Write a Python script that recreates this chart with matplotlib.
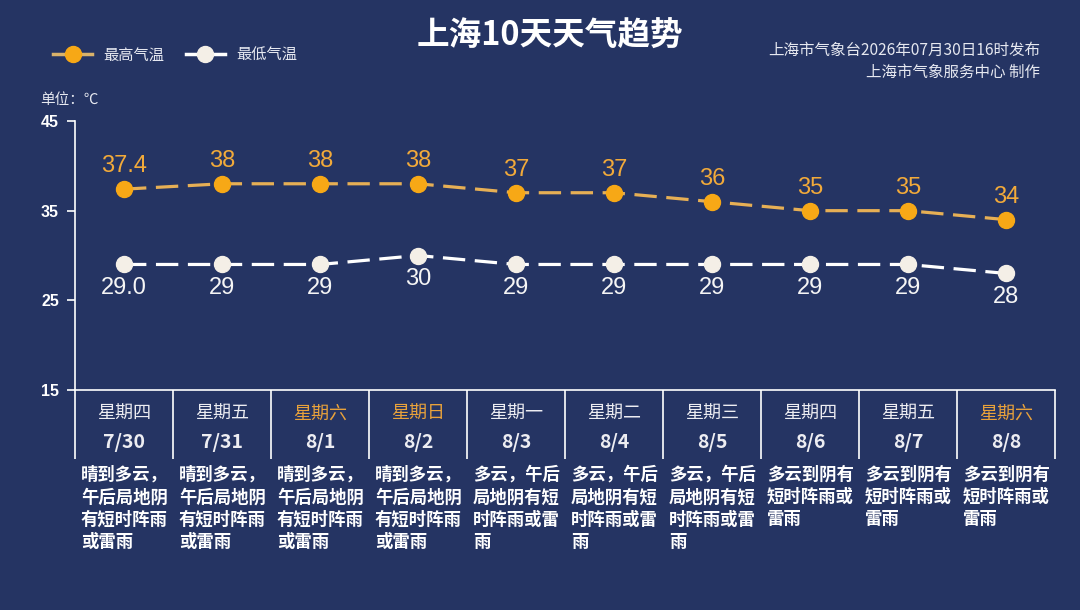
import numpy as np
import matplotlib
matplotlib.use("Agg")
import matplotlib.pyplot as plt
from matplotlib.lines import Line2D
from matplotlib.transforms import blended_transform_factory

# =========================
# DATA
# =========================
weekdays = ["星期四", "星期五", "星期六", "星期日", "星期一",
            "星期二", "星期三", "星期四", "星期五", "星期六"]
dates = ["7/30", "7/31", "8/1", "8/2", "8/3",
         "8/4", "8/5", "8/6", "8/7", "8/8"]
high_temp = [37.4, 38, 38, 38, 37, 37, 36, 35, 35, 34]
high_labels = ["37.4", "38", "38", "38", "37", "37", "36", "35", "35", "34"]
low_temp = [29.0, 29, 29, 30, 29, 29, 29, 29, 29, 28]
low_labels = ["29.0", "29", "29", "30", "29", "29", "29", "29", "29", "28"]
weekend = [False, False, True, True, False, False, False, False, False, True]
weather = [
    "晴到多云，\n午后局地阴\n有短时阵雨\n或雷雨",
    "晴到多云，\n午后局地阴\n有短时阵雨\n或雷雨",
    "晴到多云，\n午后局地阴\n有短时阵雨\n或雷雨",
    "晴到多云，\n午后局地阴\n有短时阵雨\n或雷雨",
    "多云，午后\n局地阴有短\n时阵雨或雷\n雨",
    "多云，午后\n局地阴有短\n时阵雨或雷\n雨",
    "多云，午后\n局地阴有短\n时阵雨或雷\n雨",
    "多云到阴有\n短时阵雨或\n雷雨",
    "多云到阴有\n短时阵雨或\n雷雨",
    "多云到阴有\n短时阵雨或\n雷雨",
]
y_ticks = [15, 25, 35, 45]

# =========================
# STYLE
# =========================
BG = "#253463"
ORANGE = "#F7A816"
ORANGE_LINE = "#E6AF55"
ORANGE_TEXT = "#F2AA3A"
WHITE = "#FFFFFF"
OFFWHITE = "#F4EFE7"
CJK = ["Noto Sans CJK SC", "DejaVu Sans"]
NUM = ["Liberation Sans", "DejaVu Sans"]

plt.rcParams["font.family"] = CJK

W, H = 1080, 610
fig = plt.figure(figsize=(W / 100, H / 100), dpi=100, facecolor=BG)

left_px, right_px, top_px, bottom_px = 75, 1055, 121, 390
ax = fig.add_axes([left_px / W, 1 - bottom_px / H,
                   (right_px - left_px) / W, (bottom_px - top_px) / H])
ax.set_facecolor(BG)

x = np.arange(len(dates))

# =========================
# LINES
# =========================
ax.plot(x, high_temp, color=ORANGE_LINE, lw=2.3, dashes=(7, 3),
        marker="o", ms=11.5, mfc=ORANGE, mec=ORANGE, zorder=3)
ax.plot(x, low_temp, color=WHITE, lw=2.3, dashes=(7, 3),
        marker="o", ms=11.5, mfc=OFFWHITE, mec=OFFWHITE, zorder=3)

for xi, yi, lab in zip(x, high_temp, high_labels):
    ax.annotate(lab, (xi, yi), xytext=(0, 16.5), textcoords="offset points",
                ha="center", va="center", fontsize=17, color=ORANGE_TEXT,
                family=NUM)
for xi, yi, lab in zip(x, low_temp, low_labels):
    ax.annotate(lab, (xi, yi), xytext=(0, -17), textcoords="offset points",
                ha="center", va="center", fontsize=17, color="#F5F5F5",
                family=NUM)

# =========================
# AXES
# =========================
ax.set_xlim(-0.5, len(dates) - 0.5)
ax.set_ylim(15, 45)
ax.set_yticks(y_ticks)
ax.set_xticks([])
for side in ["top", "right"]:
    ax.spines[side].set_visible(False)
ax.spines["left"].set_color(WHITE)
ax.spines["bottom"].set_color(WHITE)
ax.spines["left"].set_linewidth(1.2)
ax.spines["bottom"].set_linewidth(1.2)
ax.tick_params(axis="y", colors=WHITE, length=6, width=1.2, pad=5.5)
for t in ax.get_yticklabels():
    t.set_fontfamily(NUM)
    t.set_fontweight("bold")
    t.set_fontsize(11.5)

# =========================
# TABLE BELOW
# =========================
tr = blended_transform_factory(ax.transData, fig.transFigure)
y_top = 1 - bottom_px / H
y_bot = 1 - 459 / H
ax.vlines(np.arange(len(dates) + 1) - 0.5, y_bot, y_top, colors=WHITE,
          lw=1.2, transform=tr, clip_on=False)

for xi, wd, dt, we, desc in zip(x, weekdays, dates, weekend, weather):
    c = "#E9A23B" if we else "#EDEDF2"
    ax.text(xi, 1 - 414 / H, wd, transform=tr, ha="center", va="center",
            fontsize=13, color=c)
    ax.text(xi, 1 - 443 / H, dt, transform=tr, ha="center", va="center",
            fontsize=14, color="#EDEDF2", fontweight="bold")
    ax.text(xi - 0.44, 1 - 466 / H, desc, transform=tr, ha="left", va="top",
            fontsize=12.5, color=WHITE, fontweight="bold", linespacing=1.3)

# =========================
# TITLES / LEGEND
# =========================
fig.text(550 / W, 1 - 36 / H, "上海10天天气趋势", ha="center", va="center",
         fontsize=23.5, fontweight="bold", color=WHITE)
fig.text(1040 / W, 1 - 50 / H, "上海市气象台2026年07月30日16时发布",
         ha="right", va="center", fontsize=11.2, color="#E6E8F0")
fig.text(1040 / W, 1 - 72 / H, "上海市气象服务中心 制作",
         ha="right", va="center", fontsize=11.2, color="#E6E8F0")
fig.text(40 / W, 1 - 100 / H, "单位：℃", ha="left", va="center",
         fontsize=10.5, color="#E6E8F0", family=CJK)

handles = [
    Line2D([], [], color="#D9B26A", lw=2.5, marker="o", ms=11.5,
           mfc=ORANGE, mec=ORANGE),
    Line2D([], [], color=WHITE, lw=2.5, marker="o", ms=11.5,
           mfc=OFFWHITE, mec=OFFWHITE),
]
fig.legend(handles, ["最高气温", "最低气温"], loc="center left",
           bbox_to_anchor=(39 / W, 1 - 55 / H), ncol=2, frameon=False,
           handlelength=2.6, handletextpad=0.7, columnspacing=1.4,
           labelcolor="#E6E8F0", prop={"family": CJK, "size": 11})

fig.savefig("out.png", dpi=100, facecolor=BG)
